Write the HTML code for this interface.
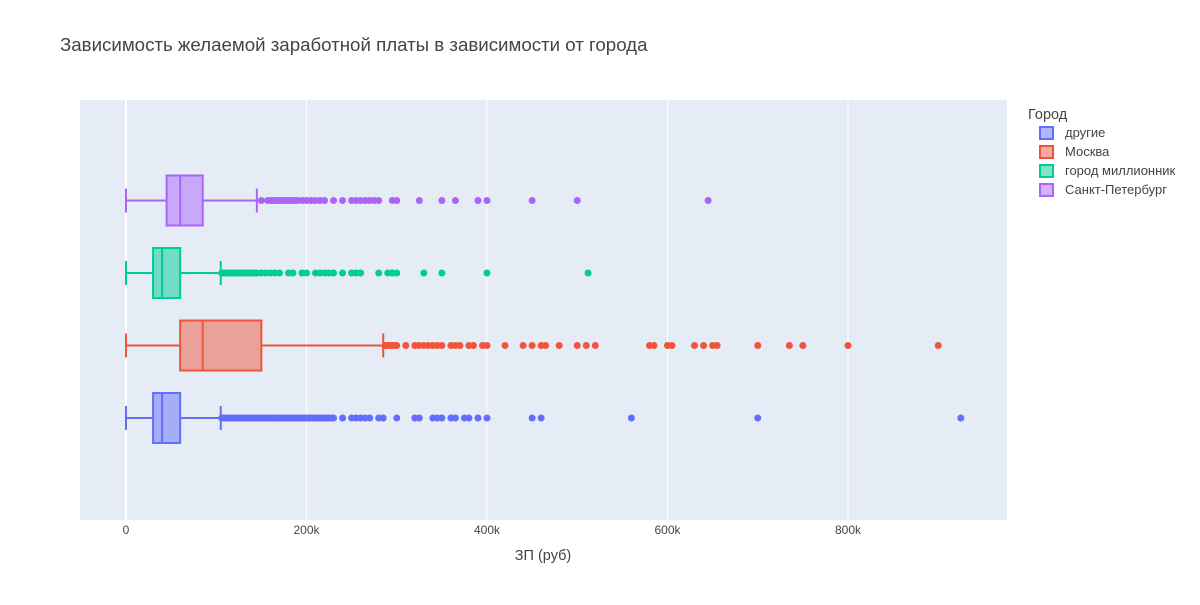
<!DOCTYPE html>
<html><head><meta charset="utf-8"><style>
body{margin:0;background:#fff;font-family:"Liberation Sans","Noto Sans CJK SC",sans-serif}
</style></head><body>
<svg id="c" width="1200" height="600" xmlns="http://www.w3.org/2000/svg" font-family="Liberation Sans, sans-serif">
<rect x="0" y="0" width="1200" height="600" fill="#fff"/>
<rect x="80" y="100" width="927" height="420" fill="#e5ecf6"/>
<g id="grid"></g>
<g id="marks"></g>
<text x="60" y="51" font-size="18.7" fill="#444">Зависимость желаемой заработной платы в зависимости от города</text>
<text x="543" y="560" font-size="14.5" fill="#444" text-anchor="middle">ЗП (руб)</text>
<g id="legend"><text x="1028" y="119" font-size="14.5" fill="#444">Город</text></g>
</svg>
<script>
const categories=["другие","Москва","город миллионник","Санкт-Петербург"];
const colors=["#636efa","#ef553b","#00cc96","#ab63fa"];
const fills=["rgba(99,110,250,0.5)","rgba(239,85,59,0.5)","rgba(0,204,150,0.5)","rgba(171,99,250,0.5)"];
const lowerFence=[0,0,0,0];
const q1=[30000,60000,30000,45000];
const median=[40000,85000,40000,60000];
const q3=[60000,150000,60000,85000];
const upperFence=[105000,285000,105000,145000];
const outliersOther=[106,108,110,112,115,118,120,122,125,128,130,133,135,138,140,143,145,148,150,153,155,158,160,163,165,168,170,173,175,178,180,183,185,188,190,193,195,198,200,203,205,208,210,213,215,218,220,223,225,228,230,240,250,255,260,265,270,280,285,300,320,325,340,345,350,360,365,375,380,390,400,450,460,560,700,925].map(v=>v*1000);
const outliersMoscow=[287,289,291,293,295,297,300,310,320,325,330,335,340,345,350,360,365,370,380,385,395,400,420,440,450,460,465,480,500,510,520,580,585,600,605,630,640,650,655,700,735,750,800,900].map(v=>v*1000);
const outliersMillion=[106,108,110,112,115,118,120,123,125,128,130,133,135,138,140,143,145,150,155,160,165,170,180,185,195,200,210,215,220,225,230,240,250,255,260,280,290,295,300,330,350,400,512].map(v=>v*1000);
const outliersSpb=[150,157,160,163,165,168,170,172,175,178,180,183,185,188,190,195,200,205,210,215,220,230,240,250,255,260,265,270,275,280,295,300,325,350,365,390,400,450,500,645].map(v=>v*1000);
const outliers=[outliersOther,outliersMoscow,outliersMillion,outliersSpb];
const xTicks=[0,200000,400000,600000,800000];
const xTickLabels=["0","200k","400k","600k","800k"];
const NS="http://www.w3.org/2000/svg";
const X=v=>126+v*0.0009025;
const Y=i=>418-i*72.5;
function mk(tag,attrs,parent){const e=document.createElementNS(NS,tag);for(const k in attrs)e.setAttribute(k,attrs[k]);parent.appendChild(e);return e;}
const grid=document.getElementById('grid'),marks=document.getElementById('marks'),leg=document.getElementById('legend');
xTicks.forEach((t,i)=>{
 const l=mk('line',{x1:X(t),x2:X(t),y1:100,y2:520,stroke:'#fff','stroke-width':t===0?2:1},grid);
 
 
 const tx=mk('text',{x:X(t),y:534,'font-size':12,fill:'#444','text-anchor':'middle'},grid);
 tx.textContent=xTickLabels[i];
 
 
});
categories.forEach((c,i)=>{
 const g=mk('g',{},marks);
 
 
 const y=Y(i),h=25,col=colors[i];
 mk('line',{x1:X(lowerFence[i]),x2:X(q1[i]),y1:y,y2:y,stroke:col,'stroke-width':2},g);
 mk('line',{x1:X(q3[i]),x2:X(upperFence[i]),y1:y,y2:y,stroke:col,'stroke-width':2},g);
 mk('line',{x1:X(lowerFence[i]),x2:X(lowerFence[i]),y1:y-12,y2:y+12,stroke:col,'stroke-width':2},g);
 mk('line',{x1:X(upperFence[i]),x2:X(upperFence[i]),y1:y-12,y2:y+12,stroke:col,'stroke-width':2},g);
 mk('rect',{x:X(q1[i]),y:y-h,width:X(q3[i])-X(q1[i]),height:2*h,fill:fills[i],stroke:col,'stroke-width':2},g);
 mk('line',{x1:X(median[i]),x2:X(median[i]),y1:y-h,y2:y+h,stroke:col,'stroke-width':2},g);
 outliers[i].forEach(v=>{
  const p=mk('circle',{cx:X(v),cy:y,r:3.5,fill:col},g);
  
  
 });
});
categories.forEach((c,i)=>{
 const y=133+i*19;
 const g=mk('g',{},leg);
 
 
 mk('rect',{x:1040,y:y-6,width:13,height:12,fill:fills[i],stroke:colors[i],'stroke-width':2},g);
 const t=mk('text',{x:1065,y:y+4,'font-size':13,fill:'#444'},g);
 t.textContent=c;
});
</script>
</body></html>
